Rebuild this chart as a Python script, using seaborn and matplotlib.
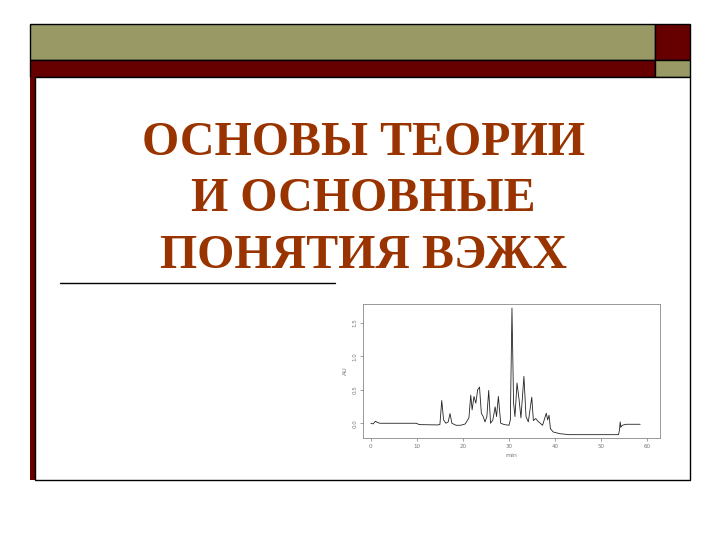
# -*- coding: utf-8 -*-

"""
Title slide with a small HPLC chromatogram in the lower right corner.
"""

import numpy as np
import pandas as pd
import matplotlib
matplotlib.use("Agg")
import matplotlib.pyplot as plt
from matplotlib.patches import Rectangle
from matplotlib.lines import Line2D
import seaborn as sns

# Chromatogram trace (time in min, detector signal).
time_min = [0.0, 0.5, 1.0, 1.5, 2.0, 5.0, 9.9, 10.5, 14.5, 15.0,
            15.4, 15.8, 16.3, 16.8, 17.2, 17.6, 18.5, 19.5, 20.5, 21.3,
            21.7, 22.0, 22.4, 22.8, 23.2, 23.6, 24.0, 24.4, 24.8, 25.2,
            25.6, 26.0, 26.5, 27.0, 27.3, 27.7, 28.2, 29.0, 30.0, 30.3,
            30.65, 31.0, 31.3, 31.75, 32.2, 32.6, 33.25, 33.7, 34.2, 34.95,
            35.3, 35.8, 36.3, 36.8, 37.3, 38.1, 38.4, 38.7, 39.0, 39.6,
            41.0, 43.0, 50.0, 53.8, 54.0, 54.15, 54.3, 54.6, 55.5, 56.0,
            58.5]
signal = [0.00, -0.01, 0.03, 0.01, 0.00, 0.00, 0.00, -0.02, -0.025, -0.02,
          0.34, 0.05, 0.00, 0.02, 0.145, 0.00, -0.03, -0.03, -0.01, 0.08,
          0.42, 0.20, 0.40, 0.30, 0.50, 0.54, 0.15, 0.10, 0.02, 0.10,
          0.49, 0.00, 0.05, 0.245, 0.10, 0.40, 0.00, -0.02, -0.03, 0.05,
          1.72, 0.30, 0.10, 0.60, 0.35, 0.08, 0.70, 0.10, 0.02, 0.39,
          0.04, 0.07, 0.03, 0.00, -0.03, 0.15, 0.05, 0.12, -0.08, -0.13,
          -0.155, -0.17, -0.17, -0.17, -0.10, 0.02, -0.06, -0.03, -0.015, -0.015,
          -0.015]

x_ticks = [0, 10, 20, 30, 40, 50, 60]
y_ticks = [0.0, 0.5, 1.0, 1.5]

title_lines = ["ОСНОВЫ ТЕОРИИ", "И ОСНОВНЫЕ", "ПОНЯТИЯ ВЭЖХ"]

olive = "#999966"
dark_red = "#660000"
title_color = "#993300"

sns.set_style("white")
plt.rcParams["font.family"] = ["DejaVu Sans"]

W, H = 720, 540
fig = plt.figure(figsize=(7.2, 5.4), dpi=100)
fig.patch.set_facecolor("white")

# Background layer in pixel coordinates (y downwards).
bg = fig.add_axes([0, 0, 1, 1])
bg.set_xlim(0, W)
bg.set_ylim(H, 0)
bg.axis("off")

# Top bars.
bg.add_patch(Rectangle((30, 24), 625, 36, facecolor=olive,
                       edgecolor="black", lw=1))
bg.add_patch(Rectangle((655, 24), 35, 36, facecolor=dark_red,
                       edgecolor="black", lw=1))
bg.add_patch(Rectangle((30, 60), 625, 17, facecolor=dark_red,
                       edgecolor="black", lw=1))
bg.add_patch(Rectangle((655, 60), 35, 17, facecolor=olive,
                       edgecolor="black", lw=1))

# Left red stripe and the white content box.
bg.add_patch(Rectangle((30, 77), 5, 403, facecolor=dark_red,
                       edgecolor="none"))
bg.add_patch(Rectangle((35, 77), 655, 403, facecolor="white",
                       edgecolor="black", lw=1))

# Title.
for y, line in zip([143, 199, 256], title_lines):
    bg.text(363, y, line, ha="center", va="center", fontsize=34.5,
            fontweight="bold", color=title_color,
            family=["Liberation Serif", "DejaVu Serif"])

# Rule under the title.
bg.add_line(Line2D([60, 335], [283, 283], color="black", lw=1))

# Chromatogram.
trace = pd.DataFrame({"min": time_min, "AU": signal})

ax = fig.add_axes([363 / W, 1 - 438 / H, 297 / W, 134 / H])
sns.lineplot(data=trace, x="min", y="AU", ax=ax, color="#222222",
             lw=0.6, estimator=None, sort=False)

ax.set_xlim(-1.7, 62.8)
ax.set_ylim(-0.22, 1.78)
ax.set_xticks(x_ticks)
ax.set_yticks(y_ticks)
ax.set_xticklabels([str(t) for t in x_ticks])
ax.set_yticklabels([f"{t:.1f}" for t in y_ticks], rotation=90,
                   va="center")
ax.tick_params(axis="both", which="both", labelsize=4, colors="#777777",
               length=2, width=0.5, pad=2, left=True, bottom=True)
for side in ax.spines.values():
    side.set_color("#888888")
    side.set_linewidth(0.6)

ax.set_xlabel("min", fontsize=4.5, color="#777777", labelpad=3)
ax.set_ylabel("AU", fontsize=4.5, color="#777777", labelpad=3)

fig.savefig("out.png", dpi=100)
